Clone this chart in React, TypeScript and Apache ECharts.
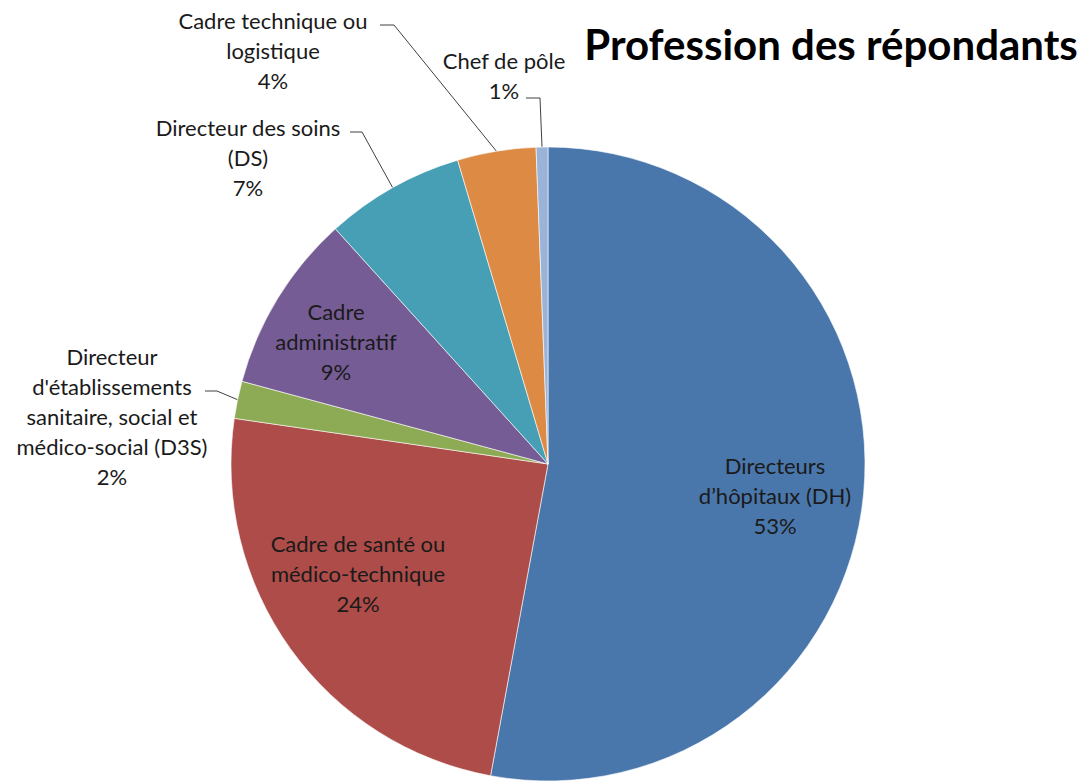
import React, { useEffect, useRef } from "react";
import * as echarts from "echarts";

const title = "Profession des répondants";
const categories = [
  "Directeurs\nd’hôpitaux (DH)",
  "Cadre de santé ou\nmédico-technique",
  "Directeur\nd'établissements\nsanitaire, social et\nmédico-social (D3S)",
  "Cadre\nadministratif",
  "Directeur des soins\n(DS)",
  "Cadre technique ou\nlogistique",
  "Chef de pôle",
];
const values = [52.9, 24.4, 1.9, 9.1, 7.1, 4.0, 0.6];
const colors = ["#4A77AB", "#AD4C48", "#8DAA55", "#765C95", "#479FB5", "#DD8B44", "#9AB3D9"];
const insideLabel = [true, true, false, true, false, false, false];

// label placement (layout only)
const labelCenters: [number, number][] = [
  [775, 495],
  [358, 573],
  [112, 416],
  [336, 341],
  [248, 157],
  [273, 50],
  [504, 75],
];
const stubs: ([number, number][] | null)[] = [
  null,
  null,
  [[217, 391], [205, 391]],
  null,
  [[362, 132], [350, 132]],
  [[394, 25], [380, 25]],
  [[540, 98], [526, 98]],
];

export default function App() {
  const ref = useRef<HTMLDivElement>(null);
  useEffect(() => {
    if (!ref.current) return;
    const chart = echarts.init(ref.current, undefined, { renderer: "svg" });
    const font = "Lato, 'Open Sans', sans-serif";
    chart.setOption({
      animation: false,
      backgroundColor: "#ffffff",
      title: {
        text: title,
        left: 826,
        top: 18,
        textAlign: "center",
        textStyle: { fontFamily: font, fontWeight: "bold", fontSize: 42, color: "#000" },
      },
      series: [
        {
          type: "pie",
          center: [548, 464],
          radius: [0, 317],
          startAngle: 90,
          clockwise: true,
          percentPrecision: 0,
          avoidLabelOverlap: false,
          itemStyle: { borderColor: "#ffffff", borderWidth: 0.6 },
          label: {
            formatter: "{b}\n{d}%",
            fontFamily: font,
            fontSize: 22,
            lineHeight: 30,
            color: "#1a1a1a",
            align: "center",
          },
          labelLine: { show: true, length: 10, length2: 10, lineStyle: { color: "#404040", width: 1 } },
          labelLayout: (params: any) => {
            const i = params.dataIndex;
            const c = labelCenters[i];
            const res: any = { x: c[0], y: c[1], align: "center", verticalAlign: "middle" };
            const st = stubs[i];
            if (st && params.labelLinePoints && params.labelLinePoints[0]) {
              res.labelLinePoints = [params.labelLinePoints[0], st[0], st[1]];
            }
            return res;
          },
          data: categories.map((name, i) => ({
            name,
            value: values[i],
            itemStyle: { color: colors[i] },
            label: { position: insideLabel[i] ? "inside" : "outside" },
            labelLine: { show: !insideLabel[i] },
          })),
        },
      ],
    });
    return () => chart.dispose();
  }, []);
  return (
    <div
      ref={ref}
      style={{ position: "fixed", left: 0, top: 0, width: 1084, height: 783 }}
    />
  );
}
